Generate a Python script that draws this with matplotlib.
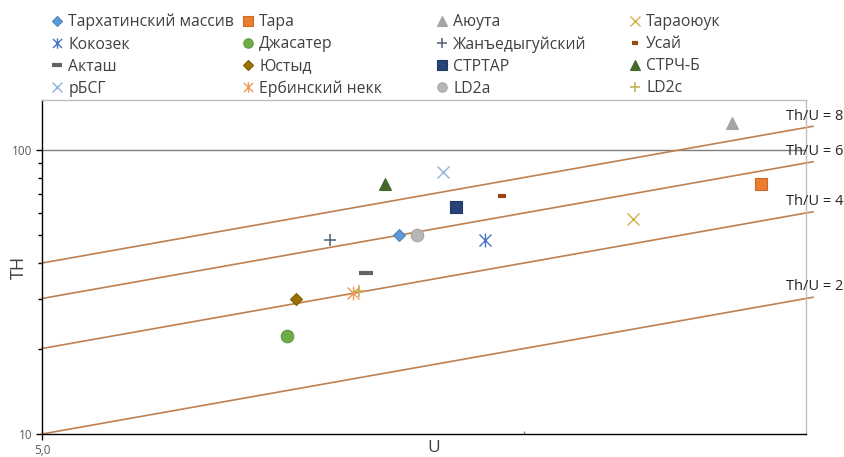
import numpy as np
import matplotlib.pyplot as plt
from matplotlib.path import Path
from matplotlib.ticker import FixedLocator, NullFormatter, FixedFormatter

plt.rcParams['font.family'] = ['Open Sans', 'DejaVu Sans']

# data (U, Th in ppm)
names = ['Тархатинский массив', 'Тара', 'Аюута', 'Тараоюук',
         'Кокозек', 'Джасатер', 'Жанъедыгуйский', 'Усай',
         'Акташ', 'Юстыд', 'СТРТАР', 'СТРЧ-Б',
         'рБСГ', 'Ербинский некк', 'LD2a', 'LD2c']
u_vals = [8.36, 14.07, 13.49, 11.69,
          9.46, 7.11, 7.56, 9.69,
          7.97, 7.20, 9.07, 8.19,
          8.90, 7.82, 8.57, 7.89]
th_vals = [50.3, 76.2, 124.0, 57.2,
           48.3, 22.2, 48.3, 69.1,
           36.9, 29.8, 63.1, 76.0,
           83.8, 31.3, 50.3, 32.0]
ratios = [8, 6, 4, 2]
u_range = [5.0, 15.15]

# excel-like asterisk: x plus a vertical bar
star = Path([(-1, -1), (1, 1), (-1, 1), (1, -1), (0, -1.15), (0, 1.15)],
            [Path.MOVETO, Path.LINETO, Path.MOVETO, Path.LINETO, Path.MOVETO, Path.LINETO])

# marker, size, face, edge, edgewidth
styles = [
    ('D', 6.3, '#5B9BD5', '#4F86B9', 0.8),
    ('s', 9, '#ED7D31', '#C96A2A', 0.8),
    ('^', 9, '#A5A5A5', '#A5A5A5', 0.8),
    ('x', 9, 'none', '#D2B04C', 1.0),
    (star, 10, 'none', '#4472C4', 1.0),
    ('o', 9, '#70AD47', '#5E9A3A', 0.8),
    ('+', 9, 'none', '#5A6A80', 1.2),
    ('_', 6, 'none', '#9E480E', 3.0),
    ('_', 10, 'none', '#636363', 3.0),
    ('D', 6.3, '#997300', '#7F6000', 0.8),
    ('s', 9, '#264478', '#1F3864', 0.8),
    ('^', 9, '#43682B', '#43682B', 0.8),
    ('x', 9, 'none', '#8FB3D9', 1.0),
    (star, 10, 'none', '#F1975A', 1.0),
    ('o', 9, '#B7B7B7', '#A5A5A5', 0.8),
    ('+', 9, 'none', '#C9B15A', 1.2),
]

fig = plt.figure(figsize=(8.45, 4.57), dpi=100)
ax = fig.add_axes([42 / 845, 23 / 457, 764 / 845, 334 / 457])
ax.set_xscale('log')
ax.set_yscale('log')
ax.set_xlim(5, 15)
ax.set_ylim(10, 150)

# reference lines Th/U = const
line_col = '#C0804F'
uu = np.array(u_range)
for r in ratios:
    ax.plot(uu, r * uu, color=line_col, lw=1.2, clip_on=False, zorder=2)
    ax.annotate('Th/U = %d' % r, xy=(uu[-1], r * uu[-1]), xytext=(-19.5, 2),
                textcoords='offset points', ha='left', va='bottom',
                fontsize=10.5, color='#262626', annotation_clip=False)

ax.axhline(100, color='#7F7F7F', lw=1.0, zorder=1)

handles = []
for name, u, th, st in zip(names, u_vals, th_vals, styles):
    m, ms, fc, ec, mew = st
    h, = ax.plot([u], [th], linestyle='none', marker=m, markersize=ms,
                 markerfacecolor=fc, markeredgecolor=ec, markeredgewidth=mew,
                 label=name, zorder=3)
    handles.append(h)

# axes styling
for side in ['top', 'right']:
    ax.spines[side].set_color('#BFBFBF')
    ax.spines[side].set_linewidth(1.0)
for side in ['left', 'bottom']:
    ax.spines[side].set_color('black')
    ax.spines[side].set_linewidth(1.0)

ax.yaxis.set_major_locator(FixedLocator([10, 100]))
ax.yaxis.set_major_formatter(FixedFormatter(['10', '100']))
ax.yaxis.set_minor_locator(FixedLocator([20, 30, 40, 50, 60, 70, 80, 90]))
ax.yaxis.set_minor_formatter(NullFormatter())
ax.tick_params(axis='y', which='major', length=4, width=1, color='black',
               labelsize=8.5, labelcolor='#595959', pad=3)
ax.tick_params(axis='y', which='minor', length=3, width=1, color='black')

ax.xaxis.set_major_locator(FixedLocator([5]))
ax.xaxis.set_major_formatter(FixedFormatter(['5,0']))
ax.xaxis.set_minor_locator(FixedLocator([10]))
ax.xaxis.set_minor_formatter(NullFormatter())
ax.tick_params(axis='x', which='major', length=4, width=1, color='black',
               labelsize=8.5, labelcolor='#595959', pad=3)
ax.tick_params(axis='x', which='minor', direction='in', length=2, width=1, color='#7F7F7F')

ax.set_xlabel('U', fontsize=12.5, color='#404040', va='baseline')
ax.xaxis.set_label_coords((434 - 42) / 764, (434 - 452) / 334)
ax.set_ylabel('TH', fontsize=13, color='#404040')
ax.yaxis.set_label_coords(-0.018, (434 - 267) / 334)

# legend: four columns laid out row-wise
col_x = [57, 248, 442, 635]
for c in range(4):
    hs = [handles[r * 4 + c] for r in range(4)]
    fig.legend(handles=hs, loc='upper left',
               bbox_to_anchor=((col_x[c] - 6) / 845, 1 - 14 / 457),
               frameon=False, fontsize=11.3, labelcolor='#404040',
               handlelength=0.75, handletextpad=0.35, borderpad=0,
               borderaxespad=0, labelspacing=0.39, numpoints=1,
               markerscale=0.75)

fig.savefig('out.png', dpi=100)
